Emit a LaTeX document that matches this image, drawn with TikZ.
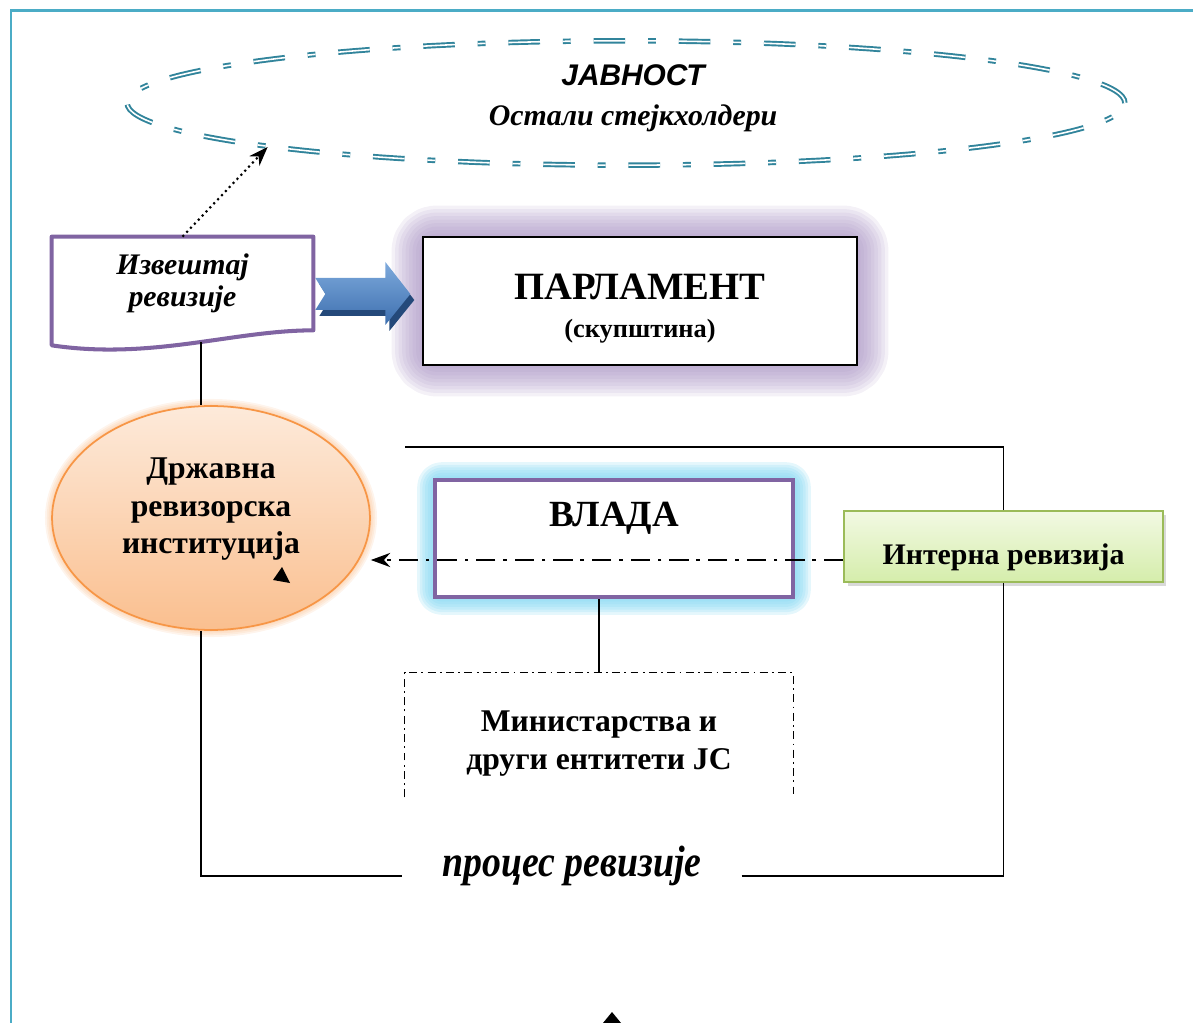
\documentclass[tikz,border=0pt]{standalone}
\usepackage{fontspec}
\setmainfont{Liberation Serif}
\newfontfamily\arialfont{Liberation Sans}
\usetikzlibrary{shapes.geometric,arrows.meta,calc,backgrounds,shadows}
\definecolor{framecol}{HTML}{4BACC6}
\definecolor{publiccol}{HTML}{31849B}
\definecolor{purp}{HTML}{8064A2}
\definecolor{parlglow}{HTML}{A48DC0}
\definecolor{govglow}{HTML}{7FD6F2}
\definecolor{saiedge}{HTML}{F79646}
\definecolor{saitop}{HTML}{FDEADA}
\definecolor{saibot}{HTML}{FABF8F}
\definecolor{inedge}{HTML}{9BBB59}
\definecolor{intop}{HTML}{F2F9E3}
\definecolor{inbot}{HTML}{D5EDAB}
\definecolor{arrowtop}{HTML}{7EAADC}
\definecolor{arrowbot}{HTML}{3D6FAF}
\definecolor{arrowdark}{HTML}{24497A}

\begin{document}
\begin{tikzpicture}[x=0.02cm,y=-0.02cm,>={Stealth[length=11pt,width=8pt]},
  txt/.style={font=\bfseries\fontsize{17}{21.5}\selectfont, align=center},
  glowline/.style={line width=#1, draw opacity=0.14, line join=round}]
\useasboundingbox (0,0) rectangle (1193,1023);
% frame
\draw[framecol, line width=1.7pt] (11,1023) -- (11,11) -- (1193,11);

% public
\node (public) at (626,103) [ellipse, minimum width=19.96cm, minimum height=2.48cm,
  draw=publiccol, line width=1.1pt, double=white, double distance=0.9pt,
  dash pattern=on 18pt off 13pt on 4.5pt off 13pt, txt, text depth=9pt]
  {\hspace*{8pt}{\arialfont\itshape ЈАВНОСТ}\\[1pt]\hspace*{8pt}{\itshape Остали стејкхолдери}};

% report
\node (report) at (182.5,283.5) [minimum width=5.22cm, minimum height=1.86cm, txt,
  font=\bfseries\itshape\fontsize{17}{18.5}\selectfont] {Извештај\\ ревизије};
\begin{scope}[on background layer]
\draw[purp, fill=white, line width=2.3pt, line join=round]
  (report.south east) .. controls +(-80,0) and +(100,15) .. ($(report.south west)+(0,15)$)
  -- (report.north west) -- (report.north east) -- cycle;
\end{scope}
\draw[->, dotted, line width=1.2pt] (report.north) -- (public.187);

% parliament
\node (parl) at (640,301) [minimum width=8.68cm, minimum height=2.56cm, draw, line width=0.8pt,
  fill=white, align=center, font=\bfseries, text depth=0pt]
  {{\fontsize{22}{24}\selectfont\rule{0pt}{19.5pt}ПАРЛАМЕНТ}\\[9.5pt]{\fontsize{15}{18}\selectfont (скупштина)}};
\begin{scope}[on background layer]
\foreach \w in {3,7,...,35}
  \draw[parlglow, glowline=\w pt, draw opacity=0.12, rounded corners=8pt] (parl.north west) rectangle (parl.south east);
\end{scope}

% block arrow
\coordinate (fwd) at ($(report.east)+(2,-5.5)$);
\fill[arrowdark] ($(fwd)+(4,6)$) -- ++(70,0) -- ++(0,-16) -- ++(25,32) -- ++(-25,31)
  -- ++(0,-15) -- ++(-70,0) -- ++(10,-16) -- cycle;
\shade[top color=arrowtop, bottom color=arrowbot] (fwd) -- ++(70,0) -- ++(0,-16) -- ++(25,32)
  -- ++(-25,31) -- ++(0,-15) -- ++(-70,0) -- ++(10,-16) -- cycle;

% SAI
\node (sai) at (211,518) [ellipse, minimum width=6.36cm, minimum height=4.48cm, draw=saiedge,
  line width=1pt, top color=saitop, bottom color=saibot, txt,
  font=\bfseries\fontsize{18}{21.5}\selectfont, text depth=14pt]
  {Државна\\ ревизорска\\ институција};
\begin{scope}[on background layer]
\foreach \w in {2,4,...,8}
  \draw[saiedge, glowline=\w pt, draw opacity=0.1] (sai.center) ellipse [x radius=159, y radius=112];
\end{scope}
\coordinate (repbot) at (201,342);
\draw[line width=0.8pt] (repbot) -- ($(sai.north)+(-10,0)$);
\fill (273,580) -- (290,583) -- (282,567) -- cycle;

% government
\node (gov) at (614,538.5) [minimum width=7.16cm, minimum height=2.34cm, draw=purp,
  line width=2.3pt, fill=white, font=\bfseries\fontsize{21}{24}\selectfont, text depth=27pt] {ВЛАДА};
\begin{scope}[on background layer]
\foreach \w in {3,6,...,18}
  \draw[govglow, glowline=\w pt, draw opacity=0.2, rounded corners=5pt] (gov.north west) rectangle (gov.south east);
\end{scope}

% internal audit
\node (inaudit) at (1003.5,546.5) [minimum width=6.38cm, minimum height=1.42cm, draw=inedge,
  line width=1pt, top color=intop, bottom color=inbot, txt, text height=21pt, text depth=1pt,
  drop shadow={opacity=0.3, shadow xshift=2pt, shadow yshift=-2.5pt}] {Интерна ревизија};
\coordinate (iaout) at ($(inaudit.west)+(0,13.5)$);
\draw[->, line width=1.4pt, dash pattern=on 11pt off 4.5pt on 2pt off 4.5pt] (iaout) -- (iaout -| sai.east);

% ministries
\node (minis) at (599,735) [minimum width=7.76cm, minimum height=2.48cm, txt,
  font=\bfseries\fontsize{18}{21.5}\selectfont, text depth=0pt]
  {\rule{0pt}{17.7pt}Министарства и\\ други ентитети ЈС};
\draw[line width=0.6pt, dash pattern=on 4.5pt off 2.5pt on 1pt off 2.5pt]
  (minis.south west) -- (minis.north west) -- (minis.north east) -- (minis.south east);
\draw[line width=0.8pt] (minis.north) -- (minis.north |- gov.south);

% audit process
\node (process) at (572,876) [anchor=base, inner xsep=22.7pt,
  font=\bfseries\itshape\fontsize{25}{28}\selectfont] {\scalebox{0.86}[1]{процес ревизије}};
\coordinate (procnw) at (405,447);
\draw[line width=0.8pt] ($(sai.south)+(-10,0)$) |- (process.base west);
\draw[line width=0.8pt] (process.base east) -| (inaudit.south);
\draw[line width=0.8pt] (inaudit.north) |- (procnw);
\fill (603,1023) -- (621,1023) -- (612,1012) -- cycle;
\end{tikzpicture}
\end{document}
